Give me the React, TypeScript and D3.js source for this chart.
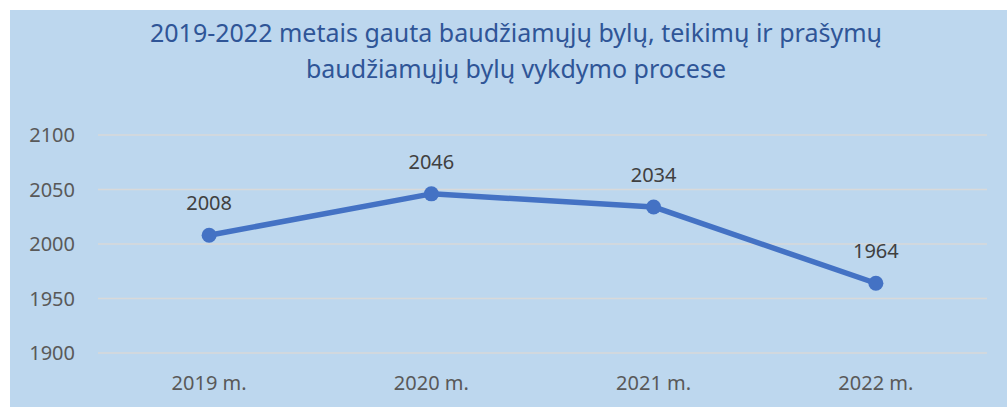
import { useEffect, useRef } from "react";
import * as d3 from "d3";

const categories = ["2019 m.", "2020 m.", "2021 m.", "2022 m."];
const values = [2008, 2046, 2034, 1964];
const yTicks = [1900, 1950, 2000, 2050, 2100];
const titleLines = [
  "2019-2022 metais gauta baudžiamųjų bylų, teikimų ir prašymų",
  "baudžiamųjų bylų vykdymo procese",
];

const FONT = "'Noto Sans', 'Open Sans', sans-serif";

export default function App() {
  const ref = useRef<HTMLDivElement>(null);

  useEffect(() => {
    if (!ref.current) return;
    document.body.style.margin = "0";
    const container = ref.current;
    container.innerHTML = "";

    const W = 1007;
    const H = 407;
    const plot = { left: 98, right: 987, top: 135, bottom: 353 };

    const svg = d3
      .select(container)
      .append("svg")
      .attr("width", W)
      .attr("height", H)
      .style("display", "block");

    // chart area background
    svg
      .append("rect")
      .attr("x", 10)
      .attr("y", 10)
      .attr("width", W - 10)
      .attr("height", H - 10)
      .attr("fill", "#BDD7EE");

    // title
    svg
      .append("g")
      .selectAll("text")
      .data(titleLines)
      .join("text")
      .attr("x", 516)
      .attr("y", (_, i) => 42 + i * 36)
      .attr("text-anchor", "middle")
      .attr("font-family", FONT)
      .attr("font-size", 25)
      .attr("fill", "#2F5597")
      .text((d) => d);

    const x = d3
      .scaleBand()
      .domain(categories)
      .range([plot.left, plot.right]);

    const y = d3
      .scaleLinear()
      .domain([1900, 2100])
      .range([plot.bottom, plot.top]);

    // gridlines
    svg
      .append("g")
      .selectAll("line")
      .data(yTicks)
      .join("line")
      .attr("x1", plot.left)
      .attr("x2", plot.right)
      .attr("y1", (d) => y(d))
      .attr("y2", (d) => y(d))
      .attr("stroke", "#D9D9D9")
      .attr("stroke-width", 1.5);

    // y tick labels
    svg
      .append("g")
      .selectAll("text")
      .data(yTicks)
      .join("text")
      .attr("x", 75)
      .attr("y", (d) => y(d))
      .attr("dy", "0.35em")
      .attr("text-anchor", "end")
      .attr("font-family", FONT)
      .attr("font-size", 20)
      .attr("fill", "#595959")
      .text((d) => d);

    // x labels
    svg
      .append("g")
      .selectAll("text")
      .data(categories)
      .join("text")
      .attr("x", (d) => x(d)! + x.bandwidth() / 2)
      .attr("y", 390)
      .attr("text-anchor", "middle")
      .attr("font-family", FONT)
      .attr("font-size", 20)
      .attr("fill", "#595959")
      .text((d) => d);

    const pts = categories.map((c, i) => ({
      cx: x(c)! + x.bandwidth() / 2,
      cy: y(values[i]),
      v: values[i],
    }));

    const line = d3
      .line<{ cx: number; cy: number }>()
      .x((d) => d.cx)
      .y((d) => d.cy);

    svg
      .append("path")
      .datum(pts)
      .attr("fill", "none")
      .attr("stroke", "#4472C4")
      .attr("stroke-width", 5.5)
      .attr("stroke-linejoin", "round")
      .attr("d", line);

    svg
      .append("g")
      .selectAll("circle")
      .data(pts)
      .join("circle")
      .attr("cx", (d) => d.cx)
      .attr("cy", (d) => d.cy)
      .attr("r", 7.5)
      .attr("fill", "#4472C4");

    // data labels
    svg
      .append("g")
      .selectAll("text")
      .data(pts)
      .join("text")
      .attr("x", (d) => d.cx)
      .attr("y", (d) => d.cy - 25)
      .attr("text-anchor", "middle")
      .attr("font-family", FONT)
      .attr("font-size", 20)
      .attr("fill", "#404040")
      .text((d) => d.v);

    return () => {
      container.innerHTML = "";
    };
  }, []);

  return <div ref={ref} />;
}
